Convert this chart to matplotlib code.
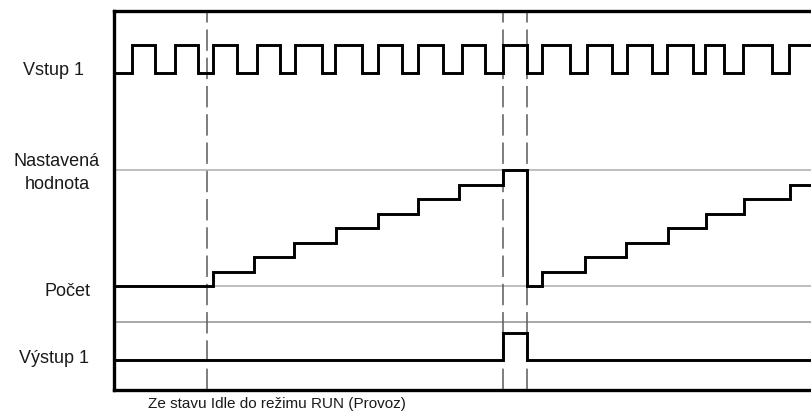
import matplotlib
matplotlib.use("Agg")
import matplotlib.pyplot as plt

plt.rcParams["font.family"] = ["Liberation Sans", "DejaVu Sans"]

# Time axis (arbitrary units) and signal levels
x_start, x_end = 114, 812

# Vstup 1: edge times, alternating low/high starting low
input_t = [114, 131.7, 155, 175, 198.3, 213.3, 236.7, 256.7, 280, 295,
           321.7, 335, 361.7, 378.3, 401.7, 418.3, 443.3, 461.7, 485, 503.3,
           526.7, 541.7, 570, 586.7, 611.7, 626.7, 652, 666.7, 693.3, 705.5,
           724, 743.3, 771.7, 789, 812]
input_v = [0, 1, 0, 1, 0, 1, 0, 1, 0, 1,
           0, 1, 0, 1, 0, 1, 0, 1, 0, 1,
           0, 1, 0, 1, 0, 1, 0, 1, 0, 1,
           0, 1, 0, 1, 1]

# Počet (counter value)
count_t = [114, 213.5, 254, 294.5, 336, 378, 418, 459, 503.3, 526.7,
           542.5, 585.5, 626.5, 668, 706, 744, 790, 812]
count_v = [0, 1, 2, 3, 4, 5, 6, 7, 8, 0,
           1, 2, 3, 4, 5, 6, 7, 7]
preset = 8

# Výstup 1
output_t = [114, 503.3, 526.7, 812]
output_v = [0, 1, 0, 0]

# mode change markers
marker_t = [207, 503.3, 526.7]

labels = ["Vstup 1", "Nastavená\nhodnota", "Počet", "Výstup 1"]
caption = "Ze stavu Idle do režimu RUN (Provoz)"

# vertical layout (rows from the top of the picture)
in_lo, in_hi = 73, 45
cnt_base, cnt_step = 286, 14.5
out_lo, out_hi = 360, 333
sep_y = 322


def to_y(v, lo, hi):
    return [lo + (hi - lo) * s for s in v]


fig = plt.figure(figsize=(8.12, 4.17), dpi=100)
ax = fig.add_axes([x_start / 812, (417 - 390) / 417,
                   (x_end - x_start) / 812, (390 - 11) / 417])
ax.set_xlim(x_start, x_end)
ax.set_ylim(390, 11)

gray = {"color": "#b4b4b4", "linewidth": 1.2, "zorder": 1}
ax.axhline(cnt_base - preset * cnt_step, **gray)
ax.axhline(cnt_base, **gray)
ax.axhline(sep_y, color="#9a9a9a", linewidth=1.2, zorder=1)

for t in marker_t:
    ax.axvline(t, color="#5a5a5a", linewidth=1.1,
               linestyle=(0, (14, 4.5)), zorder=2)

sig = {"color": "black", "linewidth": 2.1, "where": "post", "zorder": 3,
       "solid_joinstyle": "miter"}
ax.step(input_t, to_y(input_v, in_lo, in_hi), **sig)
ax.step(count_t, [cnt_base - c * cnt_step for c in count_v], **sig)
ax.step(output_t, to_y(output_v, out_lo, out_hi), **sig)

for side in ["left", "top", "bottom"]:
    ax.spines[side].set_linewidth(2.4)
ax.spines["right"].set_visible(False)
ax.set_xticks([])
ax.set_yticks([])

lab_style = {"fontsize": 13, "ha": "center", "va": "center", "clip_on": False,
             "color": "#1a1a1a"}
ax.text(54, 70, labels[0], **lab_style)
ax.text(57, 173, labels[1], multialignment="center", linespacing=1.4, **lab_style)
ax.text(68, 291, labels[2], **lab_style)
ax.text(54, 358, labels[3], **lab_style)
ax.text(148, 404, caption, fontsize=11, ha="left", va="center", clip_on=False,
        color="#1a1a1a")

fig.savefig("out.png", dpi=100)
